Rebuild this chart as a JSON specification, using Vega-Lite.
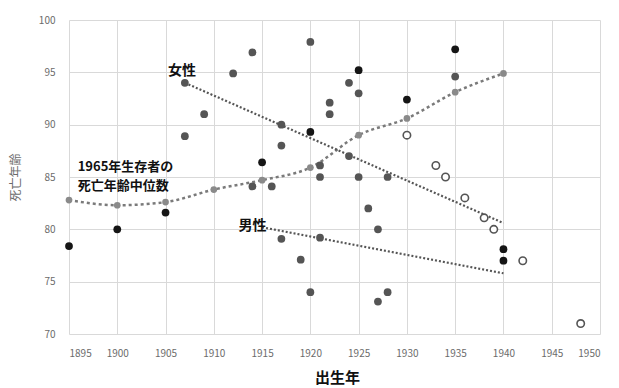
{
  "$schema": "https://vega.github.io/schema/vega-lite/v6.json",
  "width": 531,
  "height": 314,
  "autosize": {"type": "none"},
  "padding": {"left": 69, "top": 20, "right": 19, "bottom": 54},
  "background": "white",
  "config": {
    "view": {"stroke": null},
    "font": "Noto Sans CJK JP",
    "axis": {"gridColor": "#d9d9d9", "gridWidth": 1, "domain": false, "ticks": false, "labelColor": "#6b6b6b", "labelFontSize": 10, "labelFont": "Noto Sans CJK JP"}
  },
  "datasets": {
    "pts": [
      {"year": 1895, "age": 78.4, "type": "black"},
      {"year": 1900, "age": 80.0, "type": "black"},
      {"year": 1905, "age": 81.6, "type": "black"},
      {"year": 1915, "age": 86.4, "type": "black"},
      {"year": 1920, "age": 89.3, "type": "black"},
      {"year": 1925, "age": 95.2, "type": "black"},
      {"year": 1930, "age": 92.4, "type": "black"},
      {"year": 1935, "age": 97.2, "type": "black"},
      {"year": 1940, "age": 78.1, "type": "black"},
      {"year": 1940, "age": 77.0, "type": "black"},
      {"year": 1907, "age": 94.0, "type": "grey"},
      {"year": 1907, "age": 88.9, "type": "grey"},
      {"year": 1909, "age": 91.0, "type": "grey"},
      {"year": 1912, "age": 94.9, "type": "grey"},
      {"year": 1914, "age": 96.9, "type": "grey"},
      {"year": 1920, "age": 97.9, "type": "grey"},
      {"year": 1917, "age": 90.0, "type": "grey"},
      {"year": 1917, "age": 88.0, "type": "grey"},
      {"year": 1916, "age": 84.1, "type": "grey"},
      {"year": 1914, "age": 84.1, "type": "grey"},
      {"year": 1921, "age": 86.1, "type": "grey"},
      {"year": 1921, "age": 85.0, "type": "grey"},
      {"year": 1922, "age": 92.1, "type": "grey"},
      {"year": 1922, "age": 91.0, "type": "grey"},
      {"year": 1924, "age": 94.0, "type": "grey"},
      {"year": 1925, "age": 93.0, "type": "grey"},
      {"year": 1924, "age": 87.0, "type": "grey"},
      {"year": 1925, "age": 85.0, "type": "grey"},
      {"year": 1926, "age": 82.0, "type": "grey"},
      {"year": 1927, "age": 80.0, "type": "grey"},
      {"year": 1928, "age": 85.0, "type": "grey"},
      {"year": 1935, "age": 94.6, "type": "grey"},
      {"year": 1917, "age": 79.1, "type": "grey"},
      {"year": 1921, "age": 79.2, "type": "grey"},
      {"year": 1919, "age": 77.1, "type": "grey"},
      {"year": 1920, "age": 74.0, "type": "grey"},
      {"year": 1927, "age": 73.1, "type": "grey"},
      {"year": 1928, "age": 74.0, "type": "grey"},
      {"year": 1930, "age": 89.0, "type": "open"},
      {"year": 1933, "age": 86.1, "type": "open"},
      {"year": 1934, "age": 85.0, "type": "open"},
      {"year": 1936, "age": 83.0, "type": "open"},
      {"year": 1938, "age": 81.1, "type": "open"},
      {"year": 1939, "age": 80.0, "type": "open"},
      {"year": 1942, "age": 77.0, "type": "open"},
      {"year": 1948, "age": 71.0, "type": "open"}
    ],
    "median": [
      {"year": 1895, "age": 82.8},
      {"year": 1900, "age": 82.3},
      {"year": 1905, "age": 82.6},
      {"year": 1910, "age": 83.8},
      {"year": 1915, "age": 84.7},
      {"year": 1920, "age": 85.9},
      {"year": 1925, "age": 89.0},
      {"year": 1930, "age": 90.6},
      {"year": 1935, "age": 93.1},
      {"year": 1940, "age": 94.9}
    ],
    "trend": [
      {"sex": "女性", "year": 1907, "age": 94.0},
      {"sex": "女性", "year": 1940, "age": 80.6},
      {"sex": "男性", "year": 1915, "age": 80.2},
      {"sex": "男性", "year": 1940, "age": 75.8}
    ],
    "labels": [
      {"year": 1906.7, "age": 95.1, "text": "女性"},
      {"year": 1914.0, "age": 80.3, "text": "男性"}
    ],
    "medlabel": [
      {"year": 1895.9, "age": 86.0, "text": "1965年生存者の"},
      {"year": 1895.9, "age": 84.1, "text": "死亡年齢中位数"}
    ]
  },
  "encoding": {
    "x": {"field": "year", "type": "quantitative",
      "scale": {"domain": [1895, 1950], "nice": false, "zero": false},
      "axis": {"values": [1895,1900,1905,1910,1915,1920,1925,1930,1935,1940,1945,1950], "format": "d", "labelPadding": 14,
        "title": "出生年", "titleFontSize": 15, "titleFontWeight": "bold", "titleColor": "#111", "titleX": 268, "titleY": 36, "titleBaseline": "top", "titleFont": "Noto Sans CJK JP"}},
    "y": {"field": "age", "type": "quantitative",
      "scale": {"domain": [70, 100], "nice": false, "zero": false},
      "axis": {"values": [70,75,80,85,90,95,100], "labelPadding": 14,
        "title": "死亡年齢", "titleFontSize": 12, "titleFontWeight": "normal", "titleColor": "#6b6b6b", "titleX": -47, "titleY": 157, "titleAngle": -90, "titleFont": "Noto Sans CJK JP"}}
  },
  "layer": [
    {"data": {"name": "median"}, "mark": {"type": "line", "color": "#7a7a7a", "strokeWidth": 2.5, "strokeDash": [3, 3], "interpolate": "monotone"}},
    {"data": {"name": "median"}, "mark": {"type": "point", "filled": true, "color": "#8a8a8a", "size": 45, "opacity": 1}},
    {"data": {"name": "trend"}, "mark": {"type": "line", "color": "#555", "strokeWidth": 2.2, "strokeDash": [2, 2]}, "encoding": {"detail": {"field": "sex"}}},
    {"data": {"name": "pts"}, "transform": [{"filter": "datum.type === 'grey'"}], "mark": {"type": "circle", "color": "#555", "size": 60, "opacity": 1}},
    {"data": {"name": "pts"}, "transform": [{"filter": "datum.type === 'black'"}], "mark": {"type": "circle", "color": "#151515", "size": 60, "opacity": 1}},
    {"data": {"name": "pts"}, "transform": [{"filter": "datum.type === 'open'"}], "mark": {"type": "point", "filled": false, "fill": "white", "stroke": "#555", "strokeWidth": 1.6, "size": 55, "opacity": 1}},
    {"data": {"name": "labels"}, "mark": {"type": "text", "fontSize": 14, "fontWeight": "bold", "color": "#111", "align": "center", "baseline": "middle"}, "encoding": {"text": {"field": "text"}}},
    {"data": {"name": "medlabel"}, "mark": {"type": "text", "fontSize": 13, "fontWeight": "bold", "color": "#111", "align": "left", "baseline": "middle"}, "encoding": {"text": {"field": "text"}}}
  ]
}
